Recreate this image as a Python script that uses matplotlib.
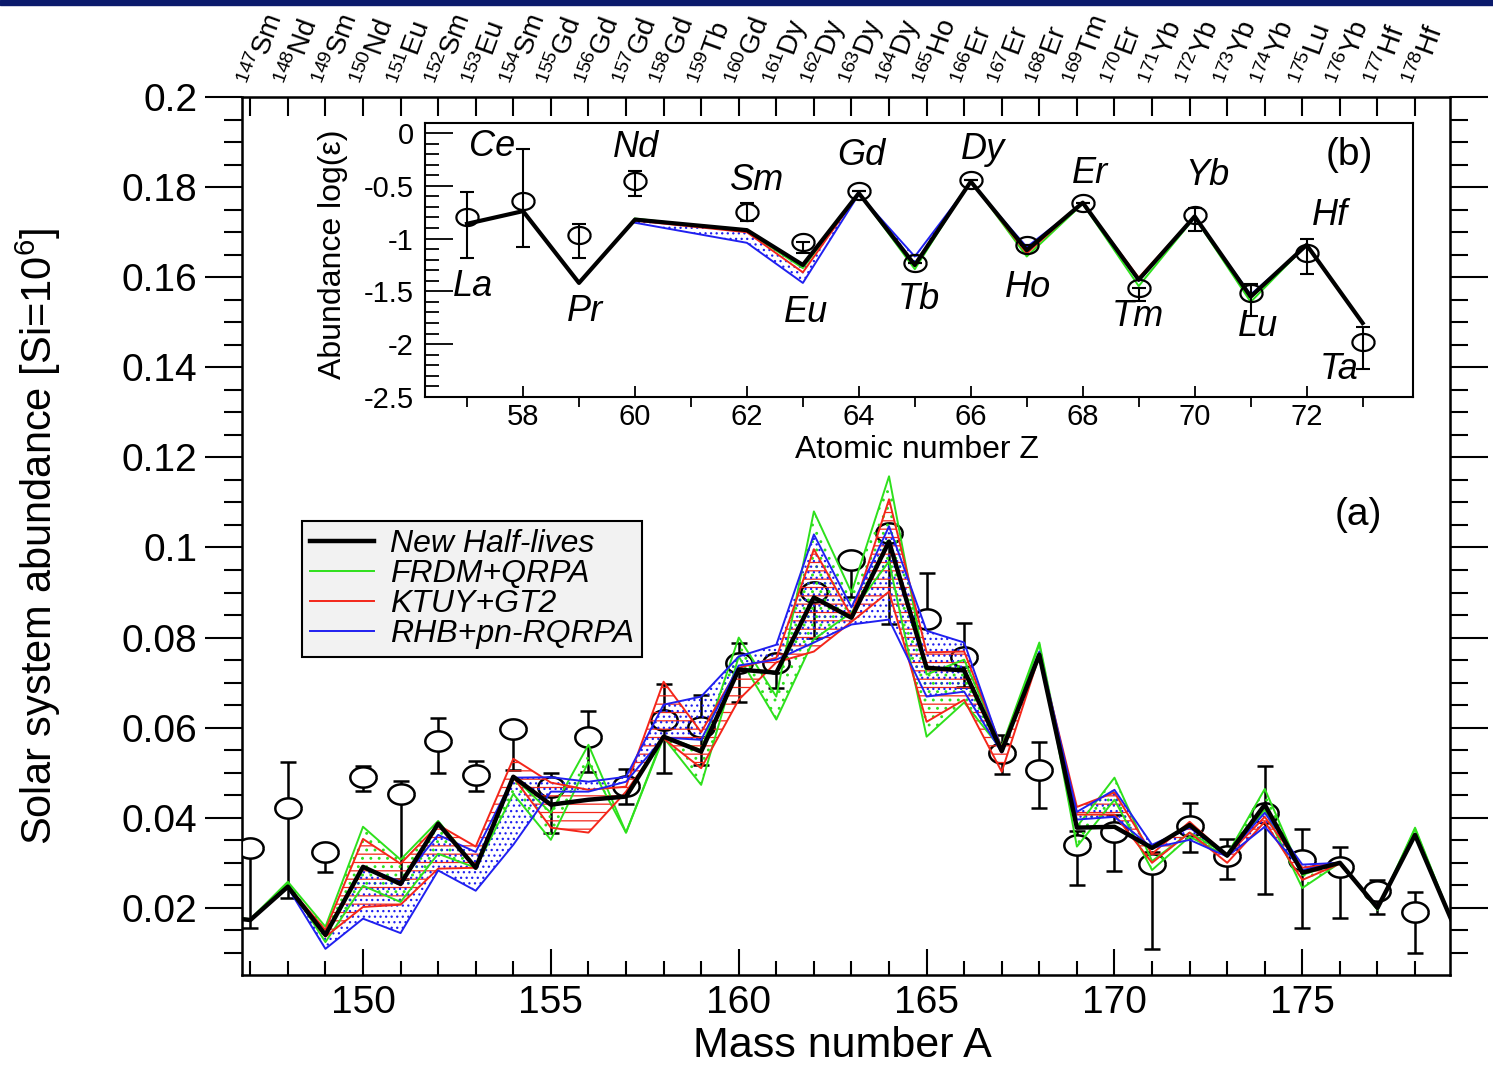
import numpy as np
import matplotlib
matplotlib.use('Agg')
import matplotlib.pyplot as plt
import matplotlib.transforms as mtransforms
from matplotlib.ticker import MultipleLocator, FixedLocator, FormatStrFormatter
from matplotlib.patches import Rectangle

plt.rcParams['font.family'] = ['Liberation Sans', 'DejaVu Sans']
plt.rcParams['mathtext.fontset'] = 'custom'
plt.rcParams['mathtext.rm'] = 'Liberation Sans'
plt.rcParams['mathtext.it'] = 'Liberation Sans:italic'
plt.rcParams['axes.unicode_minus'] = False
plt.rcParams['hatch.linewidth'] = 0.9

# ---------------- main panel (a): abundances vs mass number ----------------
A = np.arange(146, 180)

new_hl = [0.0182, 0.0173, 0.0247, 0.0140, 0.0291, 0.0253, 0.0387, 0.0289, 0.0491, 0.0429,
          0.0440, 0.0447, 0.0580, 0.0547, 0.0729, 0.0722, 0.0889, 0.0844, 0.1013, 0.0733,
          0.0727, 0.0548, 0.0762, 0.0378, 0.0380, 0.0333, 0.0384, 0.0316, 0.0429, 0.0278,
          0.0300, 0.0200, 0.0362, 0.0167]

frdm_hi = [0.0182, 0.0175, 0.0258, 0.0158, 0.0380, 0.0307, 0.0393, 0.0291, 0.0491, 0.0411,
           0.0562, 0.0367, 0.0582, 0.0550, 0.0800, 0.0669, 0.1080, 0.0900, 0.1158, 0.0718,
           0.0751, 0.0558, 0.0789, 0.0380, 0.0489, 0.0304, 0.0367, 0.0318, 0.0464, 0.0273,
           0.0302, 0.0196, 0.0378, 0.0167]
frdm_lo = [0.0182, 0.0173, 0.0255, 0.0124, 0.0249, 0.0213, 0.0320, 0.0289, 0.0453, 0.0351,
           0.0524, 0.0367, 0.0578, 0.0473, 0.0758, 0.0618, 0.0796, 0.0856, 0.0969, 0.0580,
           0.0656, 0.0551, 0.0785, 0.0336, 0.0440, 0.0284, 0.0358, 0.0314, 0.0418, 0.0244,
           0.0300, 0.0196, 0.0375, 0.0167]

ktuy_hi = [0.0182, 0.0174, 0.0248, 0.0151, 0.0353, 0.0298, 0.0384, 0.0336, 0.0531, 0.0478,
           0.0462, 0.0469, 0.0702, 0.0590, 0.0733, 0.0755, 0.0996, 0.0847, 0.1107, 0.0767,
           0.0769, 0.0555, 0.0765, 0.0424, 0.0456, 0.0320, 0.0391, 0.0316, 0.0402, 0.0289,
           0.0300, 0.0200, 0.0362, 0.0167]
ktuy_lo = [0.0182, 0.0173, 0.0245, 0.0136, 0.0202, 0.0207, 0.0287, 0.0289, 0.0490, 0.0378,
           0.0367, 0.0458, 0.0576, 0.0510, 0.0662, 0.0745, 0.0769, 0.0835, 0.0902, 0.0613,
           0.0662, 0.0502, 0.0760, 0.0407, 0.0407, 0.0300, 0.0367, 0.0300, 0.0391, 0.0262,
           0.0298, 0.0200, 0.0360, 0.0167]

rhb_hi = [0.0182, 0.0173, 0.0247, 0.0140, 0.0291, 0.0258, 0.0362, 0.0324, 0.0489, 0.0490,
          0.0480, 0.0491, 0.0651, 0.0669, 0.0758, 0.0784, 0.1029, 0.0867, 0.1047, 0.0815,
          0.0789, 0.0551, 0.0769, 0.0413, 0.0462, 0.0340, 0.0378, 0.0318, 0.0411, 0.0296,
          0.0300, 0.0200, 0.0362, 0.0167]
rhb_lo = [0.0182, 0.0173, 0.0245, 0.0109, 0.0176, 0.0144, 0.0283, 0.0238, 0.0340, 0.0458,
          0.0458, 0.0480, 0.0578, 0.0573, 0.0738, 0.0751, 0.0789, 0.0829, 0.0840, 0.0669,
          0.0680, 0.0545, 0.0765, 0.0396, 0.0402, 0.0333, 0.0351, 0.0314, 0.0380, 0.0284,
          0.0300, 0.0200, 0.0362, 0.0167]

# solar abundances (observed)
A_obs = np.arange(147, 179)
sol = [0.0333, 0.0422, 0.0324, 0.0491, 0.0453, 0.0571, 0.0496, 0.0598, 0.0469, 0.0580,
       0.0471, 0.0616, 0.0602, 0.0744, 0.0744, 0.0902, 0.0973, 0.1033, 0.0842, 0.0756,
       0.0544, 0.0507, 0.0340, 0.0369, 0.0298, 0.0382, 0.0316, 0.0410, 0.0307, 0.0291,
       0.0238, 0.0191]
sol_lo = [0.0177, 0.0200, 0.0044, 0.0031, 0.0189, 0.0071, 0.0036, 0.0091, 0.0102, 0.0078,
          0.0040, 0.0116, 0.0084, 0.0086, 0.0057, 0.0104, 0.0082, 0.0204, 0.0000, 0.0065,
          0.0046, 0.0085, 0.0089, 0.0087, 0.0189, 0.0058, 0.0052, 0.0179, 0.0151, 0.0113,
          0.0051, 0.0091]
sol_hi = [0.0000, 0.0102, 0.0000, 0.0025, 0.0029, 0.0051, 0.0031, 0.0000, 0.0031, 0.0056,
          0.0038, 0.0080, 0.0071, 0.0045, 0.0007, 0.0016, 0.0000, 0.0013, 0.0102, 0.0077,
          0.0040, 0.0062, 0.0030, 0.0038, 0.0026, 0.0051, 0.0037, 0.0106, 0.0069, 0.0045,
          0.0024, 0.0045]

top_labels = ['147Sm', '148Nd', '149Sm', '150Nd', '151Eu', '152Sm', '153Eu', '154Sm',
              '155Gd', '156Gd', '157Gd', '158Gd', '159Tb', '160Gd', '161Dy', '162Dy',
              '163Dy', '164Dy', '165Ho', '166Er', '167Er', '168Er', '169Tm', '170Er',
              '171Yb', '172Yb', '173Yb', '174Yb', '175Lu', '176Yb', '177Hf', '178Hf']

# ---------------- inset (b): elemental abundances vs Z ----------------
Z_obs = [57, 58, 59, 60, 62, 63, 64, 65, 66, 67, 68, 69, 70, 71, 72, 73]
el_obs = [-0.80, -0.64, -0.97, -0.45, -0.75, -1.03, -0.55, -1.23, -0.445, -1.06,
          -0.66, -1.47, -0.78, -1.52, -1.14, -1.98]
el_lo = [0.38, 0.44, 0.21, 0.15, 0.08, 0.11, 0, 0, 0, 0, 0, 0.12, 0.15, 0.21, 0.20, 0.26]
el_hi = [0.24, 0.49, 0.11, 0.09, 0.09, 0, 0, 0, 0, 0, 0, 0, 0.07, 0.09, 0.14, 0.14]
el_names = ['La', 'Ce', 'Pr', 'Nd', 'Sm', 'Eu', 'Gd', 'Tb', 'Dy', 'Ho', 'Er', 'Tm',
            'Yb', 'Lu', 'Hf', 'Ta']
el_label_z = [57.11, 57.45, 59.11, 60.02, 62.18, 63.05, 64.05, 65.07, 66.21, 67.02,
              68.13, 68.98, 70.23, 71.13, 72.41, 72.59]
el_label_y = [-1.45, -0.13, -1.69, -0.14, -0.45, -1.70, -0.21, -1.58, -0.16, -1.46,
              -0.38, -1.74, -0.40, -1.83, -0.78, -2.24]

Z_nh = [57, 58, 59, 60, 62, 63, 64, 65, 66, 67, 68, 69, 70, 71, 72, 73]
el_nh = [-0.86, -0.74, -1.42, -0.82, -0.92, -1.25, -0.57, -1.25, -0.46, -1.11, -0.66,
         -1.39, -0.79, -1.55, -1.06, -1.80]
Z_mod = [60, 62, 63, 64, 65, 66, 67, 68, 69, 70, 71, 72, 73]
el_nh_mod = [-0.82, -0.92, -1.25, -0.57, -1.25, -0.46, -1.11, -0.66, -1.39, -0.79, -1.55, -1.06, -1.80]
el_rhb = [-0.85, -1.04, -1.42, -0.58, -1.17, -0.47, -1.08, -0.67, -1.40, -0.80, -1.53, -1.07, -1.80]
el_ktuy = [-0.83, -0.94, -1.32, -0.57, -1.26, -0.46, -1.14, -0.66, -1.37, -0.79, -1.56, -1.06, -1.80]
el_frdm = [-0.81, -0.93, -1.28, -0.57, -1.29, -0.45, -1.17, -0.67, -1.45, -0.80, -1.60, -1.06, -1.80]

GREEN = '#2ee01c'
RED = '#f4261a'
BLUE = '#2020f0'

t = np.linspace(0, 2 * np.pi, 41)
ellipse = list(zip(1.3 * np.cos(t), np.sin(t)))

fig = plt.figure(figsize=(14.93, 10.74), dpi=100)
fig.patches.append(Rectangle((0, 0.9955), 1, 0.0045, transform=fig.transFigure,
                             color='#0b1a6c', zorder=0))

ax = fig.add_axes([0.1621, 0.0922, 0.8091, 0.8175])

# observed abundances
ax.errorbar(A_obs, sol, yerr=[sol_lo, sol_hi], fmt='none', ecolor='k', elinewidth=1.8,
            capsize=6, capthick=1.8, zorder=2)
ax.plot(A_obs, sol, ls='none', marker=ellipse, ms=19, mfc='white', mec='k', mew=1.8, zorder=3)

# model bands
for lo, hi, col, hatch in [(frdm_lo, frdm_hi, GREEN, '..'),
                           (ktuy_lo, ktuy_hi, RED, '--'),
                           (rhb_lo, rhb_hi, BLUE, '...')]:
    ax.fill_between(A, lo, hi, facecolor='none', edgecolor=col, hatch=hatch,
                    linewidth=0, zorder=4)
for lo, hi, col, name in [(frdm_lo, frdm_hi, GREEN, 'FRDM+QRPA'),
                          (ktuy_lo, ktuy_hi, RED, 'KTUY+GT2'),
                          (rhb_lo, rhb_hi, BLUE, 'RHB+pn-RQRPA')]:
    ax.plot(A, hi, color=col, lw=1.4, zorder=5, label=name)
    ax.plot(A, lo, color=col, lw=1.4, zorder=5)
ax.plot(A, new_hl, color='k', lw=3.2, zorder=6, label='New Half-lives')

ax.set_xlim(146.78, 178.93)
ax.set_ylim(0.0051, 0.2)
ax.xaxis.set_major_locator(MultipleLocator(5))
ax.xaxis.set_minor_locator(MultipleLocator(1))
ax.yaxis.set_major_locator(MultipleLocator(0.02))
ax.yaxis.set_minor_locator(MultipleLocator(0.005))
ax.yaxis.set_major_formatter(FormatStrFormatter('%g'))
ax.tick_params(axis='x', which='major', direction='in', length=19, width=1.5,
               labelsize=28, pad=7, top=False)
ax.tick_params(axis='x', which='minor', direction='in', length=10, width=1.5, top=False)
ax.tick_params(axis='y', which='major', direction='out', length=27, width=1.5,
               labelsize=28, pad=5, right=True)
ax.tick_params(axis='y', which='minor', direction='out', length=13, width=1.5, right=True)
for s in ax.spines.values():
    s.set_linewidth(1.8)

ax.set_xlabel('Mass number A', fontsize=31)
ax.xaxis.set_label_coords(0.497, -0.058)
ax.set_ylabel('Solar system abundance [Si=10$^{6}$]', fontsize=30)
ax.yaxis.set_label_coords(-0.148, 0.5)
ax.text(176.5, 0.1073, '(a)', fontsize=28, ha='center', va='center')

handles, labels = ax.get_legend_handles_labels()
order = [3, 0, 1, 2]
leg = ax.legend([handles[i] for i in order], [labels[i] for i in order],
                loc='upper left', bbox_to_anchor=(0.0497, 0.517), fancybox=False,
                edgecolor='k', facecolor='#f2f2f2', framealpha=1,
                prop={'style': 'italic', 'size': 23}, handlelength=2.0,
                labelspacing=0.0, borderpad=0.25, handletextpad=0.5, borderaxespad=0)
leg.get_frame().set_linewidth(1.5)
leg.set_zorder(10)

# top isotope axis
ax_top = ax.twiny()
ax_top.set_xlim(ax.get_xlim())
ax_top.xaxis.set_major_locator(FixedLocator(A_obs))
ax_top.tick_params(axis='x', which='major', direction='in', length=14, width=1.5,
                   labeltop=False)
trans = mtransforms.blended_transform_factory(ax.transData, ax.transAxes)
for a, lab in zip(A_obs, top_labels):
    txt = '$^{%s}$%s' % (lab[:3], lab[3:])
    ax.text(a - 0.02, 1.013, txt, transform=trans, rotation=70, rotation_mode='anchor',
            ha='left', va='center', fontsize=20, clip_on=False)

# ---------------- inset ----------------
axi = fig.add_axes([0.2847, 0.6304, 0.6617, 0.2551])
axi.set_zorder(5)
axi.fill_between(Z_mod, el_rhb, el_nh_mod, facecolor='none', edgecolor=BLUE, hatch='...',
                 linewidth=0, zorder=2)
axi.plot(Z_mod, el_frdm, color=GREEN, lw=1.4, zorder=3)
axi.plot(Z_mod, el_ktuy, color=RED, lw=1.4, zorder=3)
axi.plot(Z_mod, el_rhb, color=BLUE, lw=1.4, zorder=3)
axi.plot(Z_nh, el_nh, color='k', lw=3, zorder=4)
axi.errorbar(Z_obs, el_obs, yerr=[el_lo, el_hi], fmt='none', ecolor='k', elinewidth=1.5,
             capsize=5, capthick=1.5, zorder=5)
axi.plot(Z_obs, el_obs, ls='none', marker=ellipse, ms=16, mfc='none', mec='k', mew=1.6,
         zorder=6)
for z, y, name in zip(el_label_z, el_label_y, el_names):
    axi.text(z, y, name, fontsize=26, style='italic', ha='center', va='center')
axi.text(72.77, -0.21, '(b)', fontsize=28, ha='center', va='center')

axi.set_xlim(56.25, 73.9)
axi.set_ylim(-2.5, 0.095)
axi.xaxis.set_major_locator(MultipleLocator(2))
axi.xaxis.set_minor_locator(MultipleLocator(1))
axi.yaxis.set_major_locator(MultipleLocator(0.5))
axi.yaxis.set_minor_locator(MultipleLocator(0.1))
axi.yaxis.set_major_formatter(FormatStrFormatter('%g'))
axi.tick_params(axis='both', which='major', direction='in', labelsize=21)
axi.tick_params(axis='x', which='major', length=8, width=1.3, pad=4)
axi.tick_params(axis='x', which='minor', length=7, width=1.3)
axi.tick_params(axis='y', which='major', length=20, width=1.3, pad=8)
axi.tick_params(axis='y', which='minor', direction='in', length=10, width=1.3)
for s in axi.spines.values():
    s.set_linewidth(1.5)
axi.set_xlabel('Atomic number Z', fontsize=23)
axi.xaxis.set_label_coords(0.498, -0.14)
axi.set_ylabel('Abundance log(ε)', fontsize=23)
axi.yaxis.set_label_coords(-0.078, 0.52)

fig.savefig('out.png', dpi=100)
